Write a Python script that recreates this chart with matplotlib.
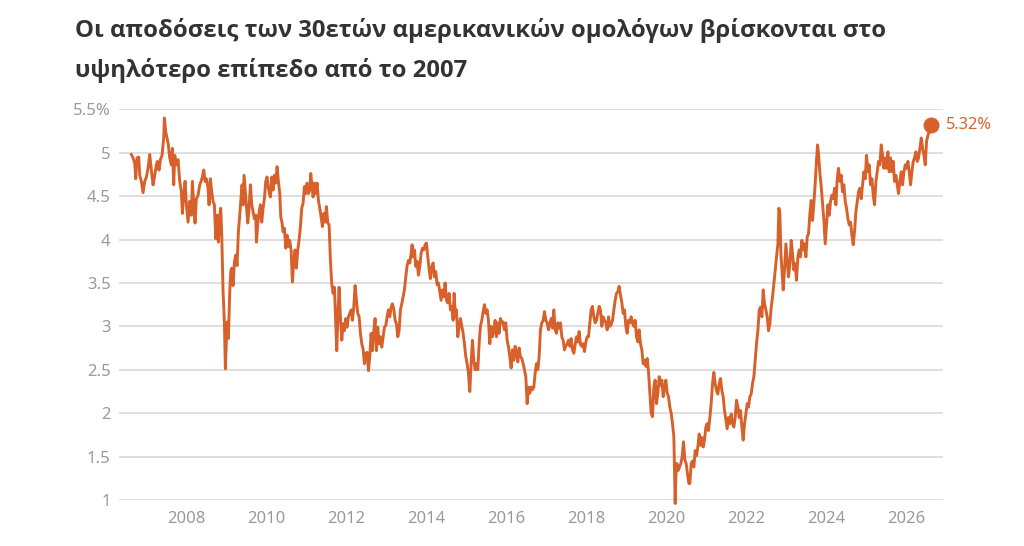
import matplotlib
matplotlib.use("Agg")
import matplotlib.pyplot as plt

plt.rcParams['font.family'] = ['Noto Sans', 'DejaVu Sans']

title_line1 = "Οι αποδόσεις των 30ετών αμερικανικών ομολόγων βρίσκονται στο"
title_line2 = "υψηλότερο επίπεδο από το 2007"

# decimal year / 30-year US Treasury yield (%)
years = [
    2006.624, 2006.666, 2006.708, 2006.733, 2006.766, 2006.808, 2006.833, 2006.874, 2006.916, 2006.958,
    2007.000, 2007.041, 2007.083, 2007.124, 2007.166, 2007.208, 2007.249, 2007.274, 2007.316, 2007.349,
    2007.391, 2007.433, 2007.449, 2007.483, 2007.516, 2007.549, 2007.583, 2007.624, 2007.649, 2007.683,
    2007.708, 2007.749, 2007.791, 2007.833, 2007.874, 2007.899, 2007.933, 2007.966, 2008.000, 2008.041,
    2008.083, 2008.124, 2008.149, 2008.183, 2008.216, 2008.249, 2008.291, 2008.333, 2008.366, 2008.399,
    2008.433, 2008.466, 2008.499, 2008.541, 2008.566, 2008.599, 2008.633, 2008.666, 2008.699, 2008.733,
    2008.766, 2008.799, 2008.833, 2008.858, 2008.883, 2008.916, 2008.949, 2008.974, 2009.000, 2009.024,
    2009.049, 2009.083, 2009.108, 2009.133, 2009.166, 2009.199, 2009.233, 2009.266, 2009.299, 2009.333,
    2009.358, 2009.391, 2009.416, 2009.441, 2009.466, 2009.499, 2009.533, 2009.566, 2009.599, 2009.633,
    2009.666, 2009.699, 2009.733, 2009.749, 2009.783, 2009.816, 2009.849, 2009.883, 2009.916, 2009.949,
    2009.983, 2010.016, 2010.049, 2010.083,
    2010.099, 2010.133, 2010.166, 2010.199, 2010.233, 2010.266, 2010.299, 2010.333, 2010.358, 2010.391,
    2010.416, 2010.449, 2010.483, 2010.516, 2010.549, 2010.583, 2010.616, 2010.649, 2010.683, 2010.716,
    2010.749, 2010.783, 2010.816, 2010.849, 2010.883, 2010.916, 2010.949, 2010.983, 2011.016, 2011.049,
    2011.083, 2011.108, 2011.141, 2011.166, 2011.199, 2011.233, 2011.266, 2011.299, 2011.333, 2011.366,
    2011.399, 2011.433, 2011.466, 2011.499, 2011.533, 2011.566, 2011.599, 2011.633, 2011.666, 2011.699,
    2011.733, 2011.758, 2011.791, 2011.816, 2011.849, 2011.883, 2011.916, 2011.949, 2011.983, 2012.016,
    2012.049, 2012.083, 2012.116, 2012.149, 2012.183, 2012.216, 2012.249, 2012.283, 2012.316, 2012.349,
    2012.383, 2012.416, 2012.449, 2012.483, 2012.516, 2012.549, 2012.583, 2012.616, 2012.649, 2012.683,
    2012.716, 2012.749, 2012.783, 2012.816, 2012.849, 2012.883, 2012.916, 2012.949, 2012.983, 2013.016,
    2013.049, 2013.083, 2013.116, 2013.149, 2013.183, 2013.216, 2013.249, 2013.283, 2013.316, 2013.349,
    2013.383, 2013.416, 2013.449, 2013.483, 2013.516, 2013.549,
    2013.583, 2013.616, 2013.641, 2013.666, 2013.699, 2013.733, 2013.766, 2013.799, 2013.833, 2013.866,
    2013.899, 2013.933, 2013.966, 2013.999, 2014.033, 2014.066, 2014.099, 2014.133, 2014.166, 2014.199,
    2014.233, 2014.266, 2014.299, 2014.333, 2014.366, 2014.399, 2014.433, 2014.466, 2014.499, 2014.533,
    2014.566, 2014.599, 2014.633, 2014.666, 2014.691, 2014.724, 2014.749, 2014.783, 2014.816, 2014.849,
    2014.883, 2014.916, 2014.949, 2014.983, 2015.016, 2015.049, 2015.083, 2015.116, 2015.149, 2015.183,
    2015.216, 2015.249, 2015.283, 2015.316, 2015.349, 2015.383, 2015.416, 2015.449, 2015.483, 2015.516,
    2015.549, 2015.583, 2015.616, 2015.649, 2015.683, 2015.716, 2015.749, 2015.783, 2015.816, 2015.849,
    2015.883, 2015.916, 2015.949, 2015.983, 2016.016, 2016.049, 2016.083, 2016.116, 2016.149, 2016.183,
    2016.216, 2016.249, 2016.283, 2016.316, 2016.349, 2016.383, 2016.416, 2016.449, 2016.483, 2016.516,
    2016.549, 2016.583, 2016.616, 2016.649, 2016.683, 2016.716, 2016.749, 2016.783, 2016.816, 2016.849,
    2016.883, 2016.916, 2016.949, 2016.983, 2017.016, 2017.049,
    2017.116, 2017.149, 2017.183, 2017.216, 2017.249, 2017.283, 2017.316, 2017.349, 2017.383, 2017.416,
    2017.449, 2017.483, 2017.516, 2017.549, 2017.583, 2017.616, 2017.649, 2017.683, 2017.716, 2017.749,
    2017.783, 2017.816, 2017.849, 2017.883, 2017.916, 2017.949, 2017.983, 2018.016, 2018.049, 2018.083,
    2018.116, 2018.149, 2018.183, 2018.216, 2018.249, 2018.283, 2018.316, 2018.349, 2018.383, 2018.416,
    2018.449, 2018.483, 2018.516, 2018.549, 2018.583, 2018.616, 2018.649, 2018.683, 2018.716, 2018.749,
    2018.783, 2018.816, 2018.849, 2018.883, 2018.916, 2018.949, 2018.983, 2019.016, 2019.049, 2019.083,
    2019.116, 2019.149, 2019.183, 2019.216, 2019.249, 2019.283, 2019.316, 2019.349, 2019.383, 2019.416,
    2019.449, 2019.483, 2019.516, 2019.549, 2019.583, 2019.616, 2019.649, 2019.683, 2019.716, 2019.749,
    2019.783, 2019.816, 2019.849, 2019.883, 2019.916, 2019.949, 2019.983, 2020.016, 2020.049, 2020.083,
    2020.116, 2020.149, 2020.183, 2020.199, 2020.216, 2020.233, 2020.258, 2020.291, 2020.324, 2020.358,
    2020.391, 2020.424, 2020.458, 2020.491, 2020.524, 2020.558,
    2020.583, 2020.616, 2020.649, 2020.683, 2020.716, 2020.749, 2020.783, 2020.816, 2020.849, 2020.883,
    2020.916, 2020.949, 2020.983, 2021.016, 2021.049, 2021.083, 2021.116, 2021.149, 2021.183, 2021.216,
    2021.249, 2021.283, 2021.316, 2021.349, 2021.383, 2021.416, 2021.449, 2021.483, 2021.516, 2021.549,
    2021.583, 2021.616, 2021.649, 2021.683, 2021.716, 2021.749, 2021.783, 2021.816, 2021.849, 2021.883,
    2021.916, 2021.949, 2021.983, 2022.016, 2022.049, 2022.083, 2022.116, 2022.149, 2022.183, 2022.216,
    2022.249, 2022.283, 2022.316, 2022.349, 2022.383, 2022.416, 2022.449, 2022.483, 2022.516, 2022.549,
    2022.583, 2022.616, 2022.649, 2022.683, 2022.716, 2022.749, 2022.783, 2022.808, 2022.833, 2022.858,
    2022.883, 2022.916, 2022.949, 2022.983, 2023.016, 2023.049, 2023.083, 2023.116, 2023.149, 2023.183,
    2023.216, 2023.249, 2023.283, 2023.316, 2023.349, 2023.383, 2023.416, 2023.449, 2023.483, 2023.516,
    2023.549, 2023.583, 2023.616, 2023.649, 2023.683, 2023.716, 2023.749, 2023.774, 2023.799, 2023.833,
    2023.866, 2023.899, 2023.933, 2023.966,
    2024.000, 2024.033, 2024.066, 2024.099, 2024.133, 2024.166, 2024.199, 2024.233, 2024.266, 2024.299,
    2024.333, 2024.366, 2024.399, 2024.433, 2024.466, 2024.499, 2024.533, 2024.566, 2024.599, 2024.633,
    2024.666, 2024.699, 2024.733, 2024.766, 2024.799, 2024.833, 2024.866, 2024.899, 2024.933, 2024.966,
    2024.999, 2025.033, 2025.066, 2025.099, 2025.133, 2025.166, 2025.199, 2025.233, 2025.266, 2025.299,
    2025.333, 2025.366, 2025.399, 2025.433, 2025.466, 2025.499, 2025.533, 2025.566, 2025.599, 2025.633,
    2025.666, 2025.699, 2025.733, 2025.766, 2025.799, 2025.833, 2025.866, 2025.899, 2025.933, 2025.966,
    2025.999, 2026.033, 2026.066, 2026.099, 2026.133, 2026.166, 2026.199, 2026.233, 2026.266, 2026.299,
    2026.333, 2026.366, 2026.399, 2026.433, 2026.466, 2026.499, 2026.533, 2026.566, 2026.599,
]

yields = [
    4.98, 4.94, 4.88, 4.70, 4.94, 4.95, 4.74, 4.67, 4.54, 4.67,
    4.72, 4.82, 4.98, 4.80, 4.63, 4.74, 4.86, 4.90, 4.80, 4.92,
    4.97, 5.17, 5.40, 5.24, 5.17, 5.09, 4.94, 4.86, 5.05, 4.63,
    4.97, 4.86, 4.92, 4.67, 4.55, 4.30, 4.51, 4.67, 4.40, 4.20,
    4.44, 4.28, 4.67, 4.40, 4.19, 4.47, 4.51, 4.63, 4.67, 4.72,
    4.80, 4.67, 4.70, 4.59, 4.40, 4.70, 4.55, 4.44, 4.40, 4.01,
    4.28, 3.97, 4.28, 4.36, 4.05, 3.40, 3.05, 2.51, 2.86, 3.05,
    2.86, 3.40, 3.63, 3.67, 3.47, 3.74, 3.82, 3.70, 4.09, 4.28,
    4.44, 4.63, 4.40, 4.74, 4.59, 4.40, 4.19, 4.36, 4.63, 4.40,
    4.32, 4.24, 4.28, 3.97, 4.17, 4.32, 4.40, 4.20, 4.36, 4.47,
    4.67, 4.72, 4.59, 4.51,
    4.49, 4.72, 4.57, 4.74, 4.65, 4.84, 4.67, 4.53, 4.26, 4.19,
    4.09, 4.13, 3.90, 4.05, 3.92, 3.99, 3.88, 3.51, 3.76, 3.88,
    3.67, 3.88, 3.99, 4.15, 4.36, 4.42, 4.61, 4.53, 4.65, 4.53,
    4.57, 4.76, 4.61, 4.49, 4.65, 4.53, 4.65, 4.45, 4.36, 4.26,
    4.15, 4.30, 4.20, 4.38, 4.19, 4.17, 3.76, 3.49, 3.38, 3.45,
    3.03, 2.72, 3.19, 3.45, 3.11, 2.84, 3.03, 2.95, 3.09, 2.99,
    3.11, 3.15, 3.19, 3.07, 3.22, 3.47, 3.30, 3.15, 3.11, 2.92,
    2.80, 2.74, 2.57, 2.69, 2.70, 2.49, 2.65, 2.92, 2.72, 2.95,
    3.09, 2.72, 2.99, 2.80, 2.88, 2.76, 2.88, 2.99, 3.01, 3.11,
    3.19, 3.11, 3.22, 3.26, 3.20, 3.07, 3.03, 2.88, 2.95, 3.19,
    3.26, 3.34, 3.42, 3.57, 3.70, 3.76,
    3.73, 3.84, 3.94, 3.80, 3.88, 3.69, 3.75, 3.59, 3.69, 3.84,
    3.90, 3.88, 3.94, 3.96, 3.80, 3.65, 3.55, 3.69, 3.73, 3.57,
    3.63, 3.48, 3.50, 3.40, 3.30, 3.42, 3.34, 3.50, 3.30, 3.27,
    3.38, 3.19, 3.23, 3.07, 3.38, 3.11, 3.19, 2.88, 3.00, 3.09,
    3.00, 2.92, 2.80, 2.65, 2.57, 2.46, 2.25, 2.57, 2.84, 2.61,
    2.50, 2.57, 2.50, 2.80, 3.00, 3.07, 3.17, 3.25, 3.15, 3.19,
    3.07, 2.80, 3.00, 2.88, 2.96, 3.07, 2.88, 3.04, 2.92, 3.09,
    3.04, 3.05, 2.96, 3.04, 2.84, 2.77, 2.65, 2.52, 2.73, 2.61,
    2.77, 2.69, 2.59, 2.75, 2.65, 2.63, 2.57, 2.50, 2.42, 2.11,
    2.30, 2.23, 2.30, 2.27, 2.30, 2.46, 2.57, 2.50, 2.65, 2.96,
    3.04, 3.07, 3.17, 3.07, 3.04, 2.96,
    3.09, 2.98, 3.19, 2.96, 2.92, 3.04, 2.98, 3.04, 2.88, 2.84,
    2.73, 2.77, 2.80, 2.84, 2.77, 2.86, 2.73, 2.69, 2.79, 2.88,
    2.82, 2.94, 2.79, 2.77, 2.80, 2.71, 2.82, 2.88, 2.88, 3.04,
    3.19, 3.23, 3.11, 3.04, 3.07, 3.15, 3.23, 3.19, 3.00, 3.11,
    3.07, 3.04, 2.96, 3.11, 3.00, 3.02, 3.07, 3.19, 3.30, 3.38,
    3.40, 3.46, 3.36, 3.27, 3.15, 3.19, 3.00, 2.92, 3.07, 3.04,
    3.11, 3.04, 3.00, 3.07, 2.88, 2.82, 2.96, 2.80, 2.73, 2.57,
    2.61, 2.54, 2.63, 2.48, 2.23, 2.00, 1.96, 2.30, 2.38, 2.11,
    2.23, 2.42, 2.32, 2.38, 2.19, 2.30, 2.38, 2.23, 2.19, 2.07,
    2.00, 1.88, 1.73, 1.38, 0.96, 1.27, 1.42, 1.34, 1.38, 1.42,
    1.50, 1.67, 1.46, 1.42, 1.30, 1.19,
    1.19, 1.42, 1.45, 1.38, 1.57, 1.51, 1.61, 1.76, 1.63, 1.72,
    1.61, 1.69, 1.84, 1.88, 1.80, 1.95, 2.11, 2.34, 2.47, 2.34,
    2.26, 2.22, 2.34, 2.40, 2.26, 2.19, 2.03, 1.92, 1.82, 1.95,
    1.88, 1.99, 1.88, 1.84, 1.95, 2.15, 2.07, 1.95, 2.03, 1.84,
    1.69, 1.88, 1.99, 2.11, 2.07, 2.19, 2.22, 2.34, 2.42, 2.61,
    2.80, 2.95, 3.19, 3.22, 3.11, 3.42, 3.26, 3.19, 3.11, 2.95,
    3.03, 3.22, 3.34, 3.49, 3.65, 3.80, 3.95, 4.36, 4.30, 3.84,
    3.65, 3.42, 3.65, 3.95, 3.76, 3.57, 3.72, 3.99, 3.84, 3.65,
    3.72, 3.53, 3.80, 3.88, 3.80, 3.99, 3.88, 3.95, 3.80, 4.03,
    4.07, 4.30, 4.45, 4.22, 4.42, 4.65, 4.92, 5.09, 4.99, 4.76,
    4.61, 4.42, 4.22, 3.95,
    4.17, 4.40, 4.28, 4.44, 4.51, 4.47, 4.59, 4.40, 4.70, 4.82,
    4.67, 4.74, 4.55, 4.63, 4.44, 4.36, 4.24, 4.17, 4.20, 4.05,
    3.94, 4.09, 4.32, 4.44, 4.55, 4.59, 4.47, 4.63, 4.78, 4.70,
    4.97, 4.78, 4.86, 4.63, 4.70, 4.51, 4.40, 4.67, 4.78, 4.90,
    4.86, 5.09, 4.97, 4.82, 4.94, 4.82, 5.01, 4.78, 4.94, 4.78,
    4.90, 4.67, 4.74, 4.63, 4.53, 4.67, 4.78, 4.63, 4.78, 4.86,
    4.82, 4.90, 4.78, 4.63, 4.78, 4.90, 4.94, 5.01, 4.90, 4.94,
    5.05, 5.17, 5.05, 4.97, 4.86, 5.13, 5.20, 5.24, 5.32,
]

y_ticks = [1, 1.5, 2, 2.5, 3, 3.5, 4, 4.5, 5, 5.5]
y_tick_labels = ["1", "1.5", "2", "2.5", "3", "3.5", "4", "4.5", "5", "5.5%"]
x_ticks = [2008, 2010, 2012, 2014, 2016, 2018, 2020, 2022, 2024, 2026]
x_tick_labels = [str(t) for t in x_ticks]
last_label = "5.32%"

LINE = "#d8612b"
GRID = "#dcdcdc"
TICK = "#9a9a9a"

W, H = 1024, 546
fig = plt.figure(figsize=(W / 100, H / 100), dpi=100)
fig.patch.set_facecolor("white")

left, right = 119 / W, 943 / W
bottom, top = 1 - 500 / H, 1 - 109.3 / H
ax = fig.add_axes([left, bottom, right - left, top - bottom])

ax.set_xlim(2006.315, 2026.91)
ax.set_ylim(1, 5.5)

for t in y_ticks:
    ax.axhline(t, color=GRID, lw=1.3, zorder=1)

ax.plot(years, yields, color=LINE, lw=2.1, zorder=3, clip_on=False,
        solid_joinstyle="round")
ax.plot([years[-1]], [yields[-1]], "o", color=LINE, ms=10.5, zorder=4, clip_on=False)
ax.annotate(last_label, xy=(years[-1], yields[-1]), xytext=(11, 0),
            textcoords="offset points", color=LINE, fontsize=11.8,
            va="center", ha="left", annotation_clip=False)

ax.set_yticks(y_ticks)
ax.set_yticklabels(y_tick_labels)
ax.set_xticks(x_ticks)
ax.set_xticklabels(x_tick_labels)
ax.tick_params(axis="both", length=0, colors=TICK, labelsize=12)
ax.tick_params(axis="y", pad=6)
ax.tick_params(axis="x", pad=8)
for s in ax.spines.values():
    s.set_visible(False)

title_family = ['Open Sans', 'Roboto', 'DejaVu Sans']
fig.text(75 / W, 1 - 36.7 / H, title_line1, fontsize=17.2, fontweight="bold",
         family=title_family, color="#333333", ha="left", va="baseline")
fig.text(75 / W, 1 - 76.7 / H, title_line2, fontsize=17.2, fontweight="bold",
         family=title_family, color="#333333", ha="left", va="baseline")

fig.savefig("out.png", dpi=100, facecolor="white")
